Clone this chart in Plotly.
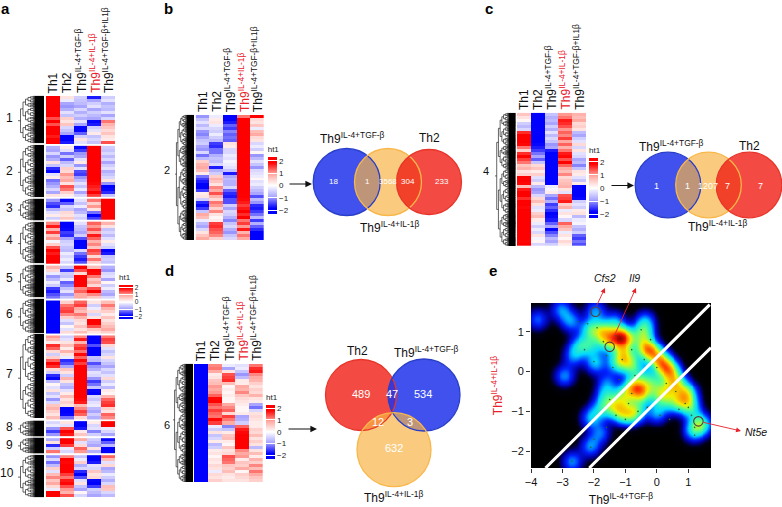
import numpy as np
import plotly.graph_objects as go

W, H = 782, 507
FONT = "Liberation Sans"
COLS = ["Th1", "Th2", "Th9<sup>IL-4+TGF-β</sup>", "Th9<sup>IL-4+IL-1β</sup>", "Th9<sup>IL-4+TGF-β+IL1β</sup>"]

# panel a, one matrix per cluster (Th1, Th2, TGF, IL1, TGF+IL1)
A1 = [[2,.3,-.5,-1.7,-.5],[2,-.2,-.6,-.9,-.3],[2,-.9,-.7,-.5,-.8],[2,-1,-.9,-.3,-.6],[2,-.8,-.4,-.9,-.7],[2,-.3,-.8,-.5,-.3],
      [2,-.6,-.5,-.7,-.9],[1.4,.5,-.8,-.9,-.4],[1.9,.3,-.3,-1.8,1.2],[1.4,.6,-.9,-1.7,.8],[2,-.4,-1.8,-.5,.6],[2,-.6,-1.8,-.3,.4],
      [2,-.9,-1.3,.2,.6],[1.7,-1.9,-.5,-.6,.3],[2,-2,.3,-.4,.2],[1.9,-1.7,-.3,-.6,1.4]]
A2 = [[-.8,.2,-1.8,2,-.5],[-.9,-.3,-1.5,2,-.6],[-.4,-1.2,-1,2,-.4],[-1,-.5,-.9,2,-.7],[-.8,-1.3,-.3,2,-.4],[.3,-.7,.2,2,-.9],
      [-.6,-.4,-1,2,-.5],[-1.6,.5,-.3,2,-.3],[-1.8,.4,-1.4,2,-.8],[-.3,1,-1.5,2,-.6],[.2,.7,-1,2,-.4],[-1.2,.9,-.7,2,.3],
      [-1,.3,-.3,1.8,-1],[-.8,1.4,-.6,1.7,-1.9],[-.4,1.2,-.2,1.6,-1.8],[-.9,.5,-.9,1.9,-1.6],[.3,.2,-.4,1.5,-.6]]
A3 = [[-1,-1.8,-.3,1.2,2],[-1.4,-1.3,-.6,.5,2],[-1.6,-.4,-.2,1,2],[-.8,-.6,-.9,.3,2],[-.3,.4,-.7,-1.2,2],[.2,.3,-.3,-1.9,2],[-.5,.6,-.5,-1.5,1.9]]
A4 = [[1.1,-2,-.3,1.3,.8],[1.7,-2,-.6,1,.3],[.8,-1.8,-.7,1.4,-.6],[1.5,-1.5,-.9,.9,-.4],[.6,-1.6,-.5,1.7,-.7],[1,-.9,-1.4,1.3,-.3],[-.1,-.5,-2,.8,.2],
      [.5,-.4,-2,1.1,-.3],[1.4,-.6,-1.9,.6,-.5],[2,-.7,-.4,1.5,-1.9],[1.7,-.2,-1.2,1.3,-1.7],[2,-.4,-1.5,.4,-.6],[1.9,-.2,-1.7,1.2,-.5],[2,-.4,-1.4,.5,-.6]]
A5 = [[.8,-.6,1.9,.7,-.8],[.4,-1.5,1.4,1.9,-1],[-.2,-.5,.4,1.8,-.4],[-1,-.6,1.9,1.2,-.3],[-.7,-.2,2,.6,-.9],[-.2,-1.3,2,.9,.1],
      [-.5,-1.1,1.9,.4,-.5],[-1.5,-.6,1.1,1.4,-.2],[-1.7,-.3,1.3,1.9,-.7],[-1.4,-1,.9,1.1,-.9],[-1.2,-.6,.9,.6,-.4]]
A6 = [[-2,.5,1.3,.3,.7],[-2,1.2,1.5,-.5,1.2],[-2,1.4,.9,-.2,.8],[-2,1.5,.7,.4,.5],[-2,1.1,1.2,-.4,.2],[-2,.5,.8,.3,.6],
      [-2,-.3,.4,1.9,.3],[-2,-.6,.3,2,.5],[-2,.1,.6,1.4,.7],[-2,-.3,.3,.6,.9],[-2,.4,.7,.3,.5]]
A7 = [[1,-.5,1.1,-2,1.2],[.7,-.3,1.7,-2,1.5],[.2,.3,.8,-2,1.4],[1.6,.7,1.4,-1.4,.4],[1.3,.2,1.6,-2,-.3],[.4,.8,1.2,-2,-.6],
      [-.5,.3,1.8,-2,-.4],[.5,-.2,1.3,-.6,.3],[1.3,-1.6,1.8,-.7,-.4],[2,-1.4,1.5,-1.4,-.6],[1.6,-.9,2,-1,-.9],[.4,.6,2,-.8,-.4],
      [-.5,.3,2,-.3,-.6],[-1.6,-.5,2,-.4,-.3],[-1.8,.8,2,-1,.4],[-.7,.3,2,-1.5,-.5],[.1,-.6,2,-1.2,-.2],[-.3,-.8,2,-.6,-.7],
      [.3,-.3,2,-1.8,.2],[-.6,.2,2,-1.9,.1],[-.3,.7,1.9,-.4,.8],[-1,.3,1.8,-.6,1.3],[-.4,.5,1.7,-.3,1.5],[.6,.3,.7,-.2,1.6],
      [.8,-2,1.1,-.7,.5],[.5,-2,1.5,-.9,.3],[.3,-1.8,1.3,-.5,1.3],[.7,-1.2,.4,-.8,1.1]]
A8 = [[-.4,.3,-2,.2,2],[-.2,-.3,-1.9,-.4,1.9],[-1,1.4,-1.7,-.3,-.2],[-1.5,1.9,.2,-1.1,-.4],[-1,1.7,.6,-.5,-.9]]
A9 = [[-.8,2,.9,-.5,-1.8],[.3,1.9,-.3,-.7,-1.3],[-1.6,1.5,.4,-.9,-.7],[-.5,-.2,1.3,.3,-2],[1.2,-.4,1,-.8,-1.9]]
A10 = [[-1,1.1,-.6,-1.9,1.3],[-.4,2,-.2,-2,.7],[-1.2,1.8,.5,-1.7,-.3],[-.7,2,-.8,-.3,.4],[.5,1.9,-.4,-.4,-.9],[-.3,2,-1.6,.6,-.7],
       [.7,1.5,-2,.3,-.2],[1.1,1.2,-1.4,.4,-.5],[.6,1.7,-.3,-1.8,-.8],[.9,1.8,.3,-2,-.4],[.4,1.4,-.6,-1.5,.7],[-.2,1,-.9,-.5,.6],
       [2,.8,.1,-.7,-.4],[1.9,1.4,-.4,-.9,-.7]]
A_CLUSTERS = [A1, A2, A3, A4, A5, A6, A7, A8, A9, A10]

B2 = [[-1,-.2,-2,1.2,2],[-.6,.2,-1.9,2,.4],[-.3,.3,-1.7,2,.3],[-.7,-.2,-1.3,2,.6],[-.4,-.4,-1.5,2,-.2],[-1,-.5,-1.1,2,.7],[-1.1,-.2,-1.3,2,.9],
      [-.9,-.5,-1.2,2,.4],[-.6,-.7,-1.3,2,.3],[-.5,-1.5,.3,2,-.4],[-.9,-1.6,.2,2,-.2],[-1,-1.2,-.4,2,-.5],[-.4,-1.2,-.4,2,.1],[-1.2,-.8,-.2,2,-1],
      [-.7,-.6,-.3,2,-.7],[.5,-.7,-.1,2,-.3],[.8,-.4,-.2,2,-.6],[.9,-1.7,-.3,2,-1],[.7,-.8,-.6,2,-.4],[.2,-.5,-1.7,2,-.3],[-1.2,.5,-.9,2,-.2],
      [-1.5,.8,-.7,2,.1],[-1.7,.6,-.8,2,-.3],[-2,.3,-.8,2,-.2],[-1.9,1.1,-.4,2,-.5],[-1.5,.9,-1.3,2,-.7],[.2,1.4,-1.6,2,-.9],[.3,.8,-1.7,2,-1.4],
      [-.5,.4,-1.4,1.8,-.7],[-1.6,1.2,-1.4,1.7,-1],[-1.8,1,-.5,1.5,-1.6],[-1.5,.5,-.9,1.7,-1.7],[-.6,1.1,-.4,1.9,-1.5],[.9,.3,-.5,1.6,-1.2],
      [.7,.1,-.8,1.9,-.7],[-.2,.2,-1.1,1.2,-1.5],[-.7,1.5,-.6,1.5,-.8],[-.9,1.6,-.4,1,-1.3],[-.4,1.4,-.8,1.7,-1.6],[.3,1.3,-1,.8,-2],[.6,1.1,-.6,1.2,-2],[.9,.5,-.4,.9,-1.9]]
C4 = [[.6,-2,-.6,1,.8],[.3,-2,-.8,1.2,.7],[.1,-2,-.7,1.7,.9],[-.5,-2,-.9,1.6,.4],[-.7,-2,-.5,1.4,.5],[-.4,-2,-.8,1,.3],[1.6,-2,-.3,1.3,-.7],
      [2,-1.9,-.7,1.1,-.9],[1.9,-1.9,-.4,1.5,-.5],[2,-2,-.6,.9,-.3],[1.8,-1.8,-1,1.3,.4],[1.2,-1.7,-.9,.8,-.4],[.5,-1.5,-1.7,1.2,.3],[1.6,-1.2,-1.9,1.7,-.3],
      [1.9,-.9,-2,1.8,-.4],[1.5,-1.3,-2,1.4,-.9],[1.2,-.6,-2,1.9,-.7],[.6,.4,-2,1.3,-1.1],[.8,.6,-1.9,.9,-.6],[.3,.2,-2,.7,.3],[.5,.5,-2,1.1,.2],
      [1.9,-.3,-2,.4,-.3],[2,-.5,-2,.6,-.6],[1.8,.2,-1.9,.7,.2],[.7,-.7,-.2,.8,-2],[1.7,-1,-.1,.3,-1.9],[1.9,-.9,.2,-.3,-2],[2,-.4,-.9,1.4,-1.9],
      [1.6,.4,-1.2,1.5,-1.8],[1.9,.7,-.8,1.7,-.5],[2,.3,-1.5,.5,-.3],[1.8,-.3,-1.3,.8,-.5],[2,-.2,-1.6,-.2,.2],[2,.5,-1.9,.3,.3],[1.9,.7,-1.8,.1,-.7],
      [2,.2,-1.7,-.4,-.2],[2,-.2,-1.3,1.3,-.1],[2,-.5,-.9,.9,-.6],[1.9,-.2,-1.8,.6,-.8],[2,-.4,-1.4,-.2,-.5],[2,.3,-1.1,.3,-1.3],[2,-.1,-.7,.1,-1.5],[1.8,.1,-.9,.4,-1.2],[2,-.4,-.5,.2,-1.4]]
D6 = [[-2,1.1,-.2,-.3,1.2],[-2,1.2,-.9,-.2,1.6],[-2,.9,.3,-.6,1.7],[-2,.2,1.4,-1,1.1],[-2,.3,1.5,-.7,.9],[-2,.6,1.6,.2,.8],[-2,.7,.7,.2,.5],[-2,1,.1,.9,.3],
      [-2,.9,.2,.8,.5],[-2,1,.1,1.1,.4],[-2,1.3,.2,.6,.8],[-2,1.8,.1,.4,.3],[-2,1.9,.1,.3,.2],[-2,1.4,.9,.2,-.9],[-2,1.2,1.1,.1,-1.2],[-2,1.5,1.3,.1,-.4],
      [-2,1.3,.4,.2,.3],[-2,1.2,1.5,-.9,.4],[-2,1.8,1.2,-.8,.3],[-2,1.5,.9,-.5,.2],[-2,-.2,-1.1,1.3,.2],[-2,-.5,-.6,1.7,.5],[-2,.3,.2,1.8,.4],[-2,-.6,.6,2,.7],
      [-2,-.4,.7,2,.3],[-2,.2,.2,2,.5],[-2,-.7,.1,1.9,.3],[-2,-.5,.6,2,-.7],[-2,.2,.3,1.1,.3],[-2,.3,.4,.9,.7],[-2,.1,1.4,1,.2],[-2,.3,1.3,.2,.8],
      [-2,.2,1.2,.6,.5],[-2,.4,.6,.5,1.1],[-2,.3,.5,.9,.7],[-2,-.2,.7,.1,1.2],[-2,.4,.3,.5,.9],[-2,.3,.2,.4,.6],[-2,.5,.3,.3,.5]]

CB_TICKS = [-2, -1, 0, 1, 2]
CB_LABELS = ["−2", "−1", "0", "1", "2"]
HEAT_SCALE = [[0, "#0000ff"], [.1, "#0000ff"], [.3, "#a8a4ff"], [.5, "#ffffff"], [.7, "#ffa8a0"], [.9, "#ff0000"], [1, "#ff0000"]]

# density blobs of panel e
BLOB_X = [-3.78,-3.04,-2.74,-1.95,-2.45,-2.11,-2.64,-1.95,-2.93,-.37,-1.32,-1.69,-1.21,-.95,-2.11,-1.58,-1.05,-1.27,-.42,-.37,-.11,.16,.42,.63,.95,1.05,1.32,1.16,1.48,
          -.74,-.47,-1.05,-1.37,-1.64,-1.11,-2.11,-1.79,-2.11,-2.69,-.74,-.63,0,.11,.47,-.42,-.11,-1.58,-1.79,-.8,-.9,.75,.35]
BLOB_Y = [1.3,1.55,1.26,1.51,.67,.63,.39,.21,-.11,1.26,1.26,1,.86,.84,1.05,.71,.46,.21,.96,.59,.46,.21,0,-.29,-.54,-.88,-1.26,-1.51,-1.38,
          -.38,-.54,-.63,-.88,-.63,-1.05,-1.17,-1.55,-1.88,-2.26,.13,-.96,-1.05,-.63,-.8,-.13,-.29,-.29,-.96,-1.1,.2,-.75,-.45]
BLOB_W = [.3,.33,.35,.35,.35,.35,.33,.4,.35,.35,.3,.65,.9,.55,.5,.45,.55,.45,.55,.7,.65,.8,.75,.55,.6,.5,.4,.4,.3,
          .7,.7,.55,.5,.35,.5,.35,.3,.35,.35,.3,.4,.35,.5,.3,.3,.4,.3,.35,.4,.35,.4,.4]
DOT_X = [-2.5,-2.2,-1.9,-1.7,-1.3,-2.3,-2,-1.6,-1.1,-.8,-.5,-.2,-.4,0,.3,.6,.9,1,1.1,1.2,-1.4,-1.2,-1,-.7,-.9,-1.5,-1.7,-1.3,-1,-.6,-.3,.1,.4,.7,-1.6,-1.2,-.8,-2,-2.1,-2.7,1.2]
DOT_Y = [1.25,1.2,1.1,.75,.9,.55,.25,.4,.3,.55,1.05,.8,.3,.1,-.3,-.5,-.8,-.9,-1.1,-1.4,.1,-.2,-.4,-.1,-.8,-.7,-1,-1.1,-1.2,-1,-.9,-1.1,-1.2,-.95,-1.4,-.6,-.55,-1.7,-1.9,-2.25,-1.6]
ELBOW_A_X = [-3.54, 1.68]
ELBOW_A_Y = [-2.42, 1.68]
ELBOW_B_X = [-2.15, 1.72]
ELBOW_B_Y = [-2.42, .6]
CIRCLE_X = [-1.95, -1.5, 1.32]
CIRCLE_Y = [1.5, .62, -1.25]

fig = go.Figure()


def dendro(y0, y1, xl, xbar, xr, depth, xs, ys):
    # small recursive tree so the comb goes black near the heatmap
    if depth == 0:
        c = (y0 + y1) / 2
        xs += [xl, xr, None]
        ys += [c, c, None]
        return c
    mid = y0 + (y1 - y0) * (.42 if depth % 2 else .58)
    nx = xl + (xbar - xl) / depth
    a = dendro(y0, mid, nx, xbar, xr, depth - 1, xs, ys)
    b = dendro(mid, y1, nx, xbar, xr, depth - 1, xs, ys)
    xs += [nx, nx, None, xl, nx, None]
    ys += [a, b, None, (a + b) / 2, (a + b) / 2, None]
    return (a + b) / 2


def add_tree(ranges, xl, xbar, xr, depth):
    xs, ys = [], []
    for t, b in ranges:
        dendro(t, b, xl, xbar, xr, depth, xs, ys)
    fig.add_trace(go.Scatter(x=xs, y=ys, mode="lines", line=dict(color="#222222", width=.7),
                             hoverinfo="skip", showlegend=False, xaxis="x", yaxis="y"))
    for t, b in ranges:
        # the leaves fuse into a solid comb
        fig.add_shape(type="rect", x0=xbar + 1.5, x1=xr, y0=t, y1=b, xref="x", yref="y", fillcolor="black", line_width=0)


def add_heat(clusters, n, box, bar, gap=.7):
    l, r, t, b = box
    ax = str(n)
    fig.update_layout({
        "xaxis" + ax: dict(domain=[l / W, r / W], range=[-.5, 4.5], visible=False, anchor="y" + ax),
        "yaxis" + ax: dict(domain=[1 - b / H, 1 - t / H], visible=False, anchor="x" + ax),
    })
    pos = 0
    for i, rows in enumerate(clusters):
        # colorbar title takes its height out of len
        cb = dict(x=bar[0] / W, xanchor="left", y=1 - (bar[1] - 11) / H, yanchor="top", len=bar[2] + 11, lenmode="pixels",
                  thickness=bar[3], thicknessmode="pixels", xpad=0, ypad=0, outlinewidth=0,
                  tickvals=CB_TICKS, ticktext=CB_LABELS, ticks="inside", ticklen=bar[3], tickcolor="white", tickwidth=1,
                  tickfont=dict(size=bar[4], color="#222222", family=FONT),
                  title=dict(text="ht1", side="top", font=dict(size=8, color="#222222", family=FONT)))
        fig.add_trace(go.Heatmap(z=rows, x=[0, 1, 2, 3, 4], y0=pos + .5, dy=1, zmin=-2.3, zmax=2.3, colorscale=HEAT_SCALE,
                                 showscale=i == 0, colorbar=cb, xaxis="x" + ax, yaxis="y" + ax, hoverinfo="skip"))
        pos += len(rows) + gap
    fig.update_layout({"yaxis" + ax: dict(range=[pos - gap, 0], domain=[1 - b / H, 1 - t / H], visible=False, anchor="x" + ax)})
    step = (r - l) / 5
    for i, c in enumerate(COLS):
        note(l + step * (i + .5), t - 1, c, size=12, color="#e8202a" if i == 3 else "#111111", angle=-90, yanchor="bottom")


def note(x, y, text, size=11, color="#111111", angle=0, yanchor="middle", xanchor="center", **kw):
    fig.add_annotation(x=x, y=y, xref="x", yref="y", text=text, showarrow=False, textangle=angle, xanchor=xanchor,
                       yanchor=yanchor, font=dict(size=size, color=color, family=FONT), **kw)


def arrow(x0, y0, x1, y1, color="#111111", w=1.2):
    fig.add_annotation(x=x1, y=y1, ax=x0, ay=y0, xref="x", yref="y", axref="x", ayref="y", text="", showarrow=True,
                       arrowhead=2, arrowsize=1.1, arrowwidth=w, arrowcolor=color)


def venn(circles):
    # fills first, then the outlines so the arcs stay visible inside the overlaps
    for cx, cy, r, fill, line in circles:
        fig.add_shape(type="circle", x0=cx - r, x1=cx + r, y0=cy - r, y1=cy + r, xref="x", yref="y",
                      fillcolor=fill, line_width=0)
    for cx, cy, r, fill, line in circles:
        fig.add_shape(type="circle", x0=cx - r, x1=cx + r, y0=cy - r, y1=cy + r, xref="x", yref="y",
                      line=dict(color=line, width=1.3))


BLUE = "rgba(30,50,235,.85)"
ORANGE = "rgba(248,180,70,.69)"
RED = "rgba(240,30,20,.8)"
BLUE_L, ORANGE_L, RED_L = "#2a3fc8", "#f8b74a", "#e8352a"
TGF = "Th9<sup>IL-4+TGF-β</sup>"
IL1 = "Th9<sup>IL-4+IL-1β</sup>"

# page wide axes in pixels for trees, venns and texts
fig.update_layout(xaxis=dict(domain=[0, 1], range=[0, W], visible=False),
                  yaxis=dict(domain=[0, 1], range=[H, 0], visible=False))

heights = [(96,143),(145,197),(199,220),(222,263),(265,297),(299,333),(334,418),(421,436),(438,453),(455,497)]
add_tree(heights, 18, 33, 44, 6)
add_tree([(115, 240)], 175, 185, 194, 7)
add_tree([(113, 246)], 495, 507, 515.5, 7)
add_tree([(364, 482)], 173, 184, 193, 7)

add_heat(A_CLUSTERS, 2, (46, 115, 96, 497), (119, 282, 37, 13.5, 6.5))
add_heat([B2], 3, (195.7, 264, 115, 240), (267.7, 154, 60, 9, 8))
add_heat([C4], 4, (517, 586, 112.7, 246), (589, 155, 63, 9, 8))
add_heat([D6], 5, (194, 262.7, 364, 482.3), (266, 401.7, 56.7, 9, 8))

for c, lab_x, lab_y in zip(range(1, 11), [9]*9 + [7], [118,171,208,240,278,314,374,427,445,473]):
    note(lab_x, lab_y, str(c), size=12)
note(167, 170, "2", size=11)
note(486, 171, "4", size=11)
note(167, 425, "6", size=11)

for lab, x, y in [("a", 5, 8), ("b", 168, 8), ("c", 489, 8), ("d", 169, 270), ("e", 493, 270)]:
    note(x, y, "<b>%s</b>" % lab, size=15, color="black")

venn([(346.7, 182, 33.5, BLUE, BLUE_L), (388, 182, 33.5, ORANGE, ORANGE_L), (429, 182, 32.5, RED, RED_L)])
venn([(668, 185, 32.8, BLUE, BLUE_L), (708.5, 185, 32.8, ORANGE, ORANGE_L), (749, 185, 32.8, RED, RED_L)])
venn([(361, 395, 35.5, RED, RED_L), (424, 395, 36, BLUE, BLUE_L), (394, 449.7, 37, ORANGE, ORANGE_L)])

for t, x, y, s in [(TGF, 352, 138, 12), ("Th2", 429, 138, 12), (IL1, 389, 227, 12), (TGF, 671, 146, 12), ("Th2", 749, 146, 12),
                   (IL1, 717, 226, 12), ("Th2", 357, 351, 12), (TGF, 426, 352, 12), (IL1, 393, 497, 12)]:
    note(x, y, t, size=s)
for t, x, y, s in [("18",333,181,8),("1",367,181,8),("3568",388,181,8),("304",408,181,8),("233",442,181,8),
                   ("1",656,186,9),("1",687,186,9),("1207",708,186,9),("7",727,186,9),("7",760,186,9),
                   ("489",361,394,11),("47",392,394,11),("534",423,394,11),("12",378,422,11),("3",410,422,11),("632",394,448,11)]:
    note(x, y, t, size=s, color="white")

arrow(288, 184, 312, 184)
arrow(610, 185.5, 634, 185.5)
arrow(287, 429, 317, 429)

# panel e density
gx = np.linspace(-4, 1.72, 200)
gy = np.linspace(-2.42, 1.72, 170)
xx, yy = np.meshgrid(gx, gy)
dens = np.zeros_like(xx)
for bx, by, bw in zip(BLOB_X, BLOB_Y, BLOB_W):
    dens += bw * np.exp(-((xx - bx) / .23) ** 2 / 2 - ((yy - by) / .19) ** 2 / 2)
JET = [[0, "#000000"], [.03, "#000010"], [.09, "#0000a0"], [.17, "#0020ff"], [.3, "#00d8ff"], [.45, "#50ff90"],
       [.6, "#f0f000"], [.72, "#ff9000"], [.84, "#ff1800"], [1, "#700000"]]
fig.add_trace(go.Heatmap(z=dens, x=gx, y=gy, zmin=0, zmax=1.5, colorscale=JET, showscale=False, xaxis="x6", yaxis="y6", hoverinfo="skip"))
fig.add_trace(go.Scatter(x=DOT_X, y=DOT_Y, mode="markers", marker=dict(size=1.6, color="#1f6a2a"), xaxis="x6", yaxis="y6", showlegend=False, hoverinfo="skip"))
for ex, ey in [(ELBOW_A_X, ELBOW_A_Y), (ELBOW_B_X, ELBOW_B_Y)]:
    fig.add_trace(go.Scatter(x=ex, y=ey, mode="lines", line=dict(color="white", width=3), xaxis="x6", yaxis="y6", showlegend=False, hoverinfo="skip"))
fig.add_trace(go.Scatter(x=CIRCLE_X, y=CIRCLE_Y, mode="markers", marker=dict(size=9.5, color="rgba(0,0,0,0)", line=dict(color="#5a3a3a", width=1.1)),
                         xaxis="x6", yaxis="y6", showlegend=False, hoverinfo="skip"))
fig.update_layout(
    xaxis6=dict(domain=[531 / W, 711 / W], range=[-4, 1.72], anchor="y6", tickvals=[-4, -3, -2, -1, 0, 1], ticktext=["−4", "−3", "−2", "−1", "0", "1"],
                ticks="outside", ticklen=4, tickcolor="#333333", tickfont=dict(size=11, family=FONT, color="#111111"), showgrid=False, zeroline=False,
                title=dict(text=TGF, font=dict(size=12, family=FONT, color="#111111"), standoff=10)),
    yaxis6=dict(domain=[1 - 468 / H, 1 - 303 / H], range=[-2.42, 1.72], anchor="x6", tickvals=[-2, -1, 0, 1], ticktext=["−2", "−1", "0", "1"],
                ticks="outside", ticklen=4, tickcolor="#333333", tickfont=dict(size=11, family=FONT, color="#111111"), showgrid=False, zeroline=False,
                title=dict(text=IL1, font=dict(size=12, family=FONT, color="#e8202a"), standoff=6)),
)
arrow(596, 307, 605, 288, color="#e8202a", w=.9)
arrow(611, 343, 636, 288, color="#e8202a", w=.9)
arrow(702, 422, 741, 431, color="#e8202a", w=.9)
note(605, 278, "<i>Cfs2</i>", size=10.5)
note(634, 278, "<i>Il9</i>", size=10.5)
note(756, 432, "<i>Nt5e</i>", size=10.5)

fig.update_layout(width=W, height=H, margin=dict(l=0, r=0, t=0, b=0, autoexpand=False), plot_bgcolor="white", paper_bgcolor="white",
                  showlegend=False, font=dict(family=FONT))
# the page's default body margin would push the figure off the window
fig.write_html("out.html", config=dict(displayModeBar=False),
               post_script="document.body.style.margin='0';document.body.style.overflow='hidden';")
